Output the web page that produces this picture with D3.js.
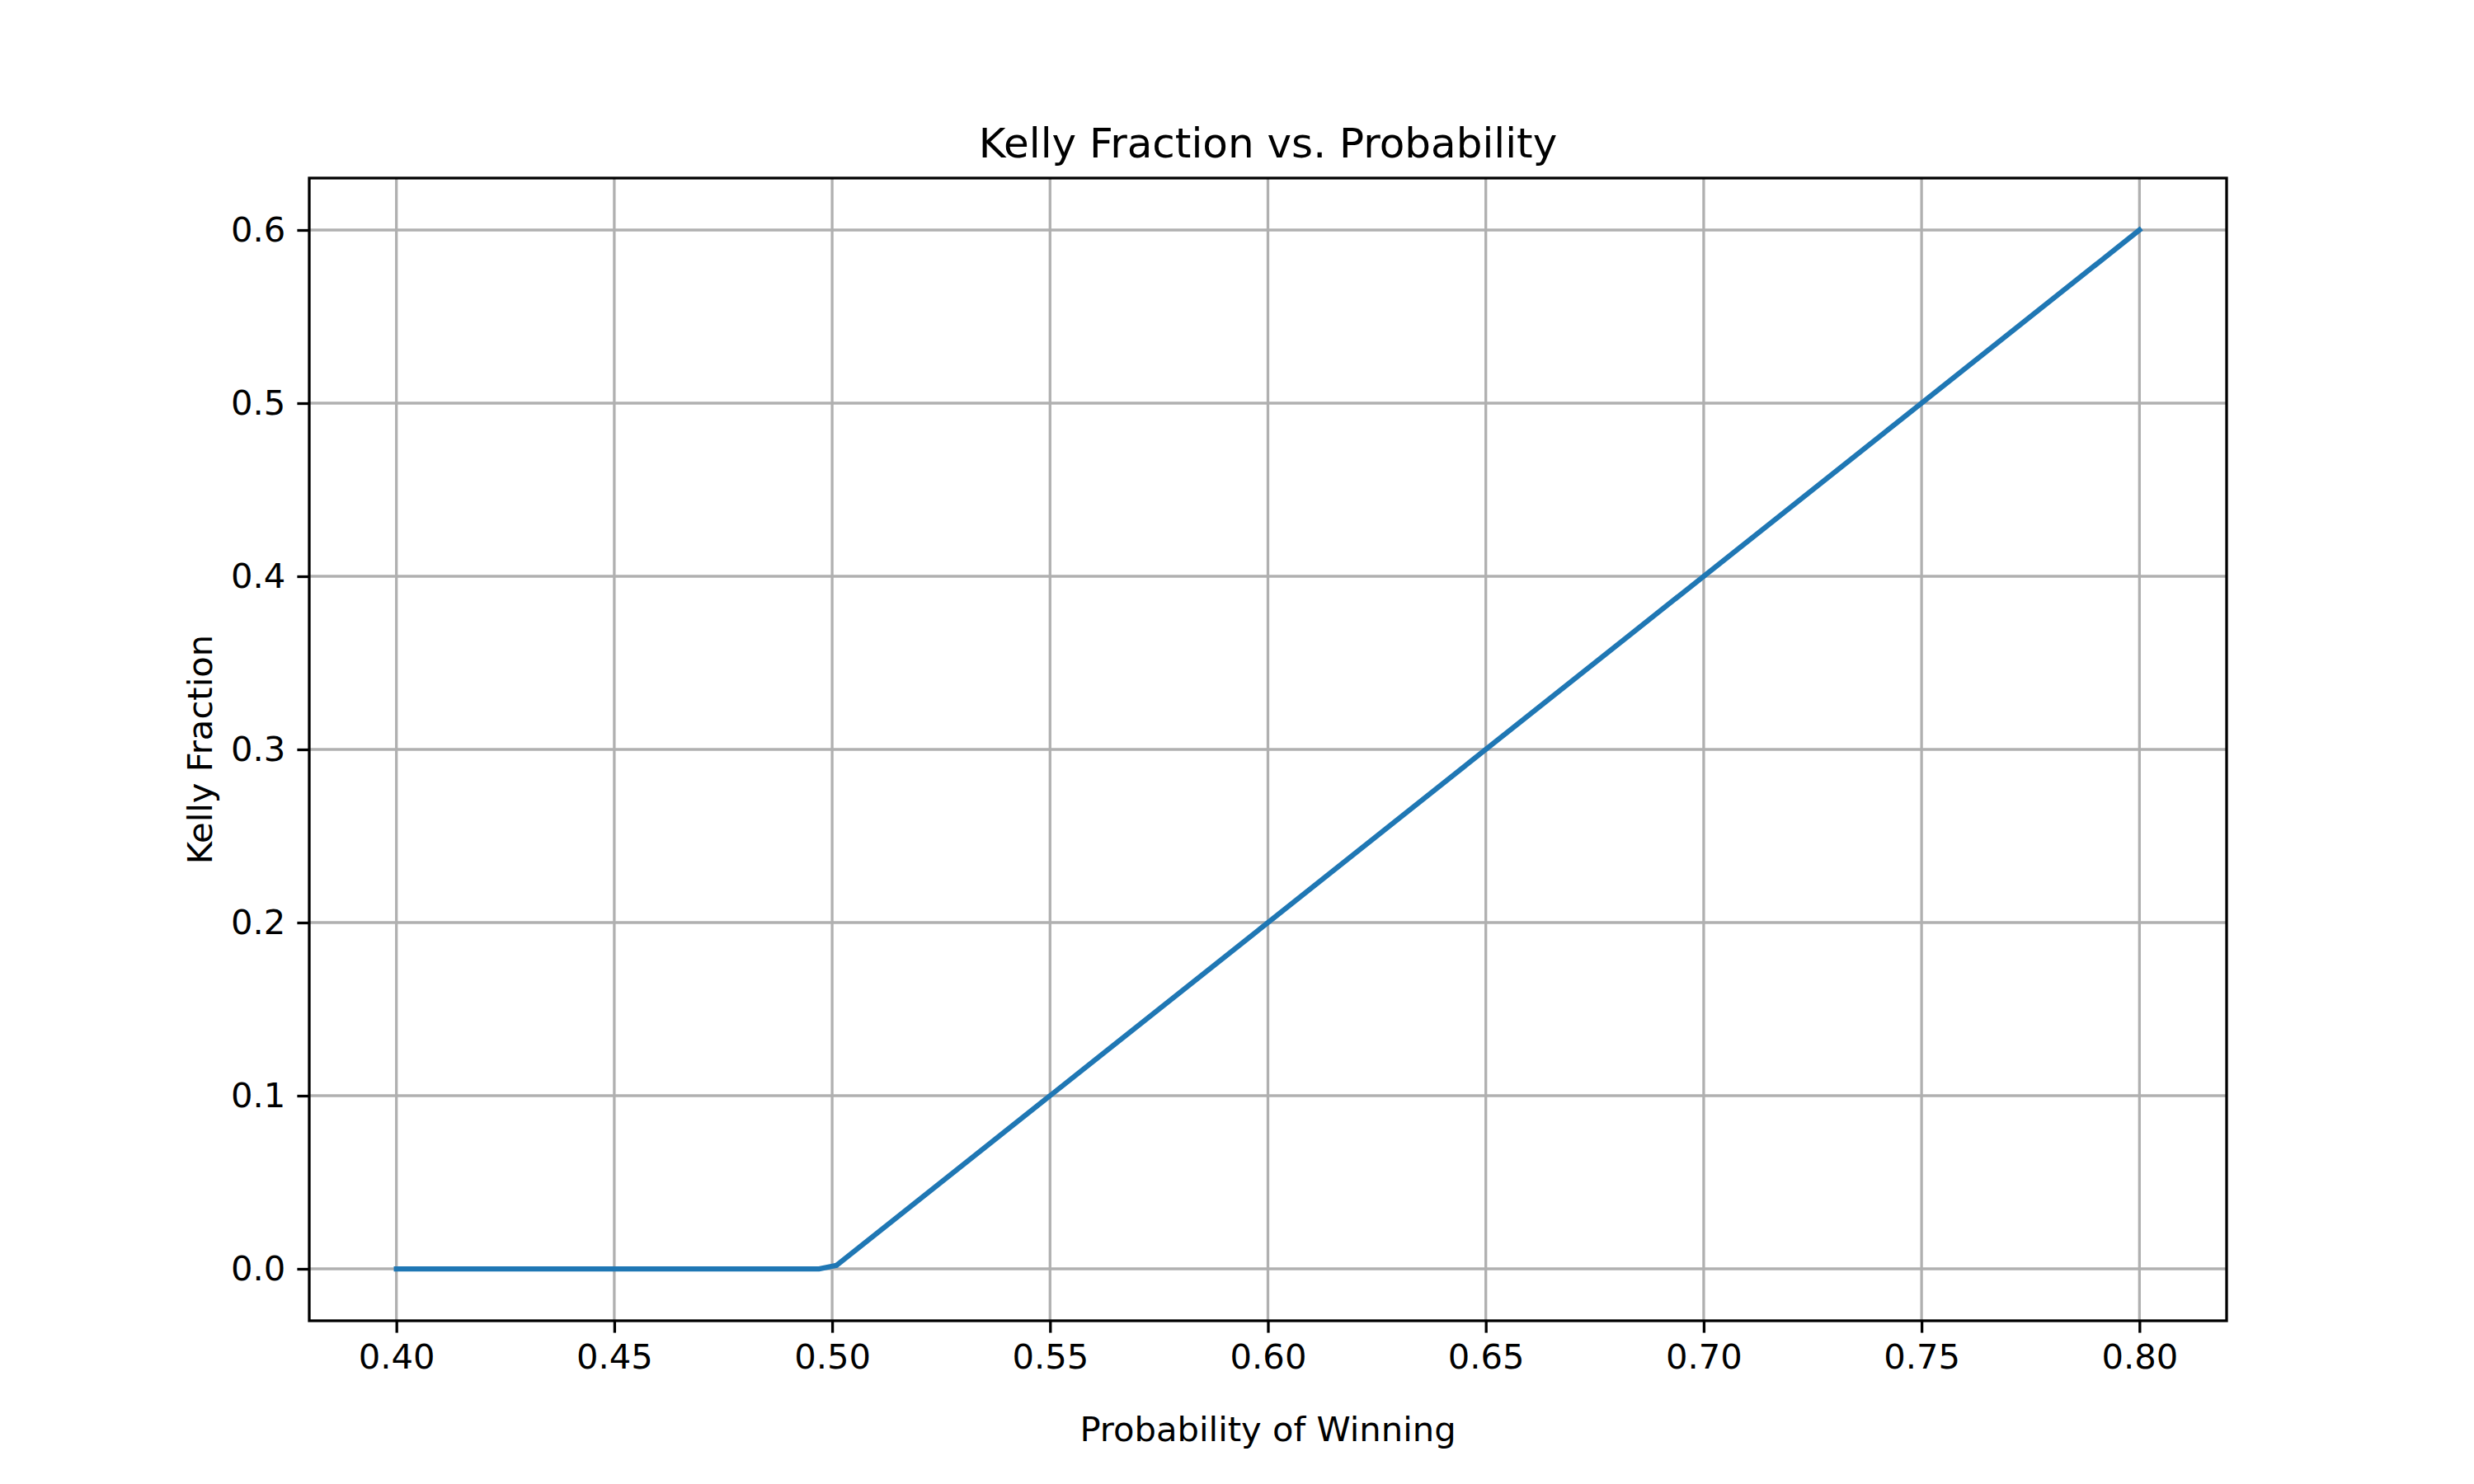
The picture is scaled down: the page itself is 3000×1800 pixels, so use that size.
<!DOCTYPE html>
<html><head><meta charset="utf-8">
<script src="https://cdn.jsdelivr.net/npm/d3@7"></script>
<style>body{margin:0;background:#fff}text{font-family:"DejaVu Sans",sans-serif}</style>
</head><body><div id="chart"></div>
<script>
// Data
var probs  = [0.40, 0.497, 0.501, 0.80];
var kelly  = [0.0, 0.0, 0.002, 0.60];
var xticks = [0.40, 0.45, 0.50, 0.55, 0.60, 0.65, 0.70, 0.75, 0.80];
var yticks = [0.0, 0.1, 0.2, 0.3, 0.4, 0.5, 0.6];

var W = 3000, H = 1800;
var m = {left: 375, right: 2700, top: 216, bottom: 1602};

var x = d3.scaleLinear().domain([0.38, 0.82]).range([m.left, m.right]);
var y = d3.scaleLinear().domain([-0.03, 0.63]).range([m.bottom, m.top]);

var svg = d3.select('#chart').append('svg').attr('width', W).attr('height', H);

// grid
svg.append('g').selectAll('line').data(xticks).enter().append('line')
    .attr('x1', x).attr('x2', x).attr('y1', m.top).attr('y2', m.bottom)
    .attr('stroke', '#b0b0b0').attr('stroke-width', 3.3);
svg.append('g').selectAll('line').data(yticks).enter().append('line')
    .attr('y1', y).attr('y2', y).attr('x1', m.left).attr('x2', m.right)
    .attr('stroke', '#b0b0b0').attr('stroke-width', 3.3);

// axes
var xAxis = svg.append('g').attr('transform', 'translate(0,' + m.bottom + ')')
    .call(d3.axisBottom(x).tickValues(xticks).tickFormat(d3.format('.2f')).tickSize(14.6).tickPadding(14));
var yAxis = svg.append('g').attr('transform', 'translate(' + m.left + ',0)')
    .call(d3.axisLeft(y).tickValues(yticks).tickFormat(d3.format('.1f')).tickSize(14.6).tickPadding(14));
[xAxis, yAxis].forEach(function(a){
    a.select('.domain').remove();
    a.selectAll('line').attr('stroke', '#000').attr('stroke-width', 3.3);
    a.selectAll('text').attr('font-size', 41.7).attr('fill', '#000').style('font-family', '"DejaVu Sans"');
});

// line
var line = d3.line().x(function(d){ return x(d[0]); }).y(function(d){ return y(d[1]); });
svg.append('path')
    .datum(probs.map(function(p, i){ return [p, kelly[i]]; }))
    .attr('d', line).attr('fill', 'none')
    .attr('stroke', '#1f77b4').attr('stroke-width', 6.25).attr('stroke-linecap', 'square');

// frame
svg.append('rect').attr('x', m.left).attr('y', m.top)
    .attr('width', m.right - m.left).attr('height', m.bottom - m.top)
    .attr('fill', 'none').attr('stroke', '#000').attr('stroke-width', 3.3);

// labels
svg.append('text').attr('x', (m.left + m.right) / 2).attr('y', 191)
    .attr('text-anchor', 'middle').attr('font-size', 50).text('Kelly Fraction vs. Probability');
svg.append('text').attr('x', (m.left + m.right) / 2).attr('y', 1748)
    .attr('text-anchor', 'middle').attr('font-size', 41.7).text('Probability of Winning');
svg.append('text').attr('transform', 'translate(257,' + (m.top + m.bottom) / 2 + ') rotate(-90)')
    .attr('text-anchor', 'middle').attr('font-size', 41.7).text('Kelly Fraction');
</script>
</body></html>
